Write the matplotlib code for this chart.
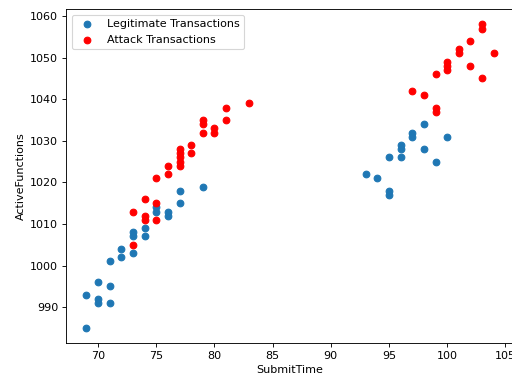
import matplotlib
matplotlib.use("Agg")
import matplotlib.pyplot as plt

# Legitimate transactions
legit_time = [69, 69, 70, 70, 70, 71, 71, 71, 72, 72, 73, 73, 73, 74, 74,
              75, 75, 76, 76, 77, 77, 79, 93, 94, 95, 95, 95, 96, 96, 96,
              97, 97, 98, 98, 99, 100]
legit_func = [985, 993, 996, 992, 991, 995, 991, 1001, 1004, 1002, 1003, 1007, 1008, 1007, 1009,
              1014, 1013, 1013, 1012, 1015, 1018, 1019, 1022, 1021, 1026, 1018, 1017, 1029, 1028, 1026,
              1032, 1031, 1034, 1028, 1025, 1031]

# Attack transactions
attack_time = [73, 73, 74, 74, 74, 75, 75, 75, 76, 76, 77, 77, 77, 77, 77,
               78, 78, 79, 79, 79, 80, 80, 81, 81, 83,
               97, 98, 99, 99, 99, 100, 100, 100, 101, 101, 102, 102, 103, 103, 103, 104]
attack_func = [1005, 1013, 1016, 1012, 1011, 1015, 1011, 1021, 1024, 1022, 1028, 1027, 1026, 1025, 1024,
               1029, 1027, 1035, 1034, 1032, 1033, 1032, 1038, 1035, 1039,
               1042, 1041, 1046, 1038, 1037, 1049, 1048, 1047, 1052, 1051, 1054, 1048, 1058, 1057, 1045, 1051]

fig = plt.figure(figsize=(6.4, 4.7875), dpi=80)
ax = fig.add_axes([0.129, 0.104, 0.875, 0.872])
ax.scatter(legit_time, legit_func, color='#1f77b4', label='Legitimate Transactions')
ax.scatter(attack_time, attack_func, color='red', label='Attack Transactions')
ax.set_xlabel('SubmitTime')
ax.set_ylabel('ActiveFunctions')
ax.legend(loc='upper left')
fig.savefig('out.png', dpi=80)
